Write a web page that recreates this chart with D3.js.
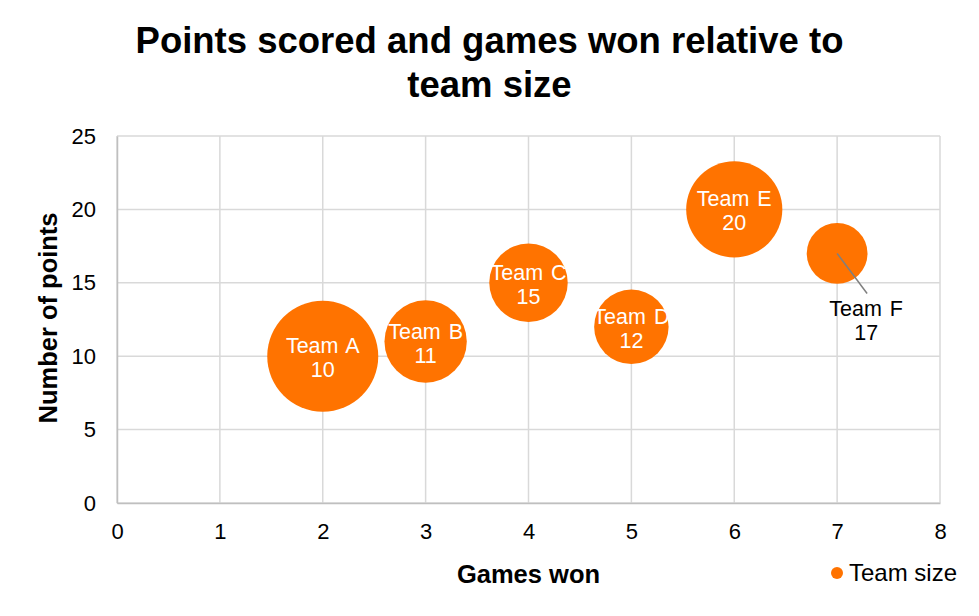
<!DOCTYPE html>
<html>
<head>
<meta charset="utf-8">
<script src="https://cdn.jsdelivr.net/npm/d3@7"></script>
<style>
  body { margin: 0; background: #fff; }
  svg { display: block; font-family: "Liberation Sans", Arial, sans-serif; }
</style>
</head>
<body>
<svg id="chart" width="979" height="616"></svg>
<script>
// chart data
const teams = ['Team A', 'Team B', 'Team C', 'Team D', 'Team E', 'Team F'];
const gamesWon = [2, 3, 4, 5, 6, 7];
const points = [10, 11, 15, 12, 20, 17];
const teamSize = [20, 11, 10, 9, 15, 6];
const xTicks = [0, 1, 2, 3, 4, 5, 6, 7, 8];
const yTicks = [0, 5, 10, 15, 20, 25];

const svg = d3.select('#chart');
const width = 979;
const height = 616;
const margin = { top: 136, right: 39, bottom: 113, left: 117 };
const orange = '#ff7300';

const data = teams.map((t, i) => ({
  team: t, x: gamesWon[i], y: points[i], size: teamSize[i]
}));

const xScale = d3.scaleLinear()
  .domain([0, 8])
  .range([margin.left, width - margin.right]);

const yScale = d3.scaleLinear()
  .domain([0, 25])
  .range([height - margin.bottom, margin.top]);

const rScale = d3.scaleSqrt()
  .domain([0, d3.max(teamSize)])
  .range([0, 55.5]);

// title
svg.append('text')
  .attr('x', 489.5)
  .attr('y', 53)
  .attr('text-anchor', 'middle')
  .attr('font-size', '36.5px')
  .attr('font-weight', 'bold')
  .attr('fill', '#000')
  .selectAll('tspan')
  .data(['Points scored and games won relative to', 'team size'])
  .enter()
  .append('tspan')
  .attr('x', 489.5)
  .attr('dy', (d, i) => i === 0 ? 0 : 44)
  .text(d => d);

// gridlines
const grid = svg.append('g').attr('class', 'grid');
grid.selectAll('line.v')
  .data(xTicks)
  .enter()
  .append('line')
  .attr('class', 'v')
  .attr('x1', d => xScale(d))
  .attr('x2', d => xScale(d))
  .attr('y1', yScale(25))
  .attr('y2', yScale(0))
  .attr('stroke', '#d9d9d9')
  .attr('stroke-width', 1.5);

grid.selectAll('line.h')
  .data(yTicks)
  .enter()
  .append('line')
  .attr('class', 'h')
  .attr('x1', xScale(0))
  .attr('x2', xScale(8))
  .attr('y1', d => yScale(d))
  .attr('y2', d => yScale(d))
  .attr('stroke', '#d9d9d9')
  .attr('stroke-width', 1.5);

// axes
const xAxis = d3.axisBottom(xScale).tickValues(xTicks).tickSize(0).tickPadding(20);
const yAxis = d3.axisLeft(yScale).tickValues(yTicks).tickSize(0).tickPadding(21);

const gx = svg.append('g')
  .attr('class', 'x-axis')
  .attr('transform', `translate(0,${yScale(0)})`)
  .call(xAxis);

const gy = svg.append('g')
  .attr('class', 'y-axis')
  .attr('transform', `translate(${xScale(0)},0)`)
  .call(yAxis);

[gx, gy].forEach(g => {
  g.select('.domain').attr('stroke', '#bfbfbf').attr('stroke-width', 1.5);
  g.selectAll('text')
    .attr('font-size', '22px')
    .attr('fill', '#000')
    .attr('font-family', '"Liberation Sans", Arial, sans-serif');
});

// axis titles
svg.append('text')
  .attr('x', (xScale(0) + xScale(8)) / 2)
  .attr('y', 583)
  .attr('text-anchor', 'middle')
  .attr('font-size', '25.5px')
  .attr('font-weight', 'bold')
  .attr('fill', '#000')
  .text('Games won');

svg.append('text')
  .attr('transform', 'translate(57,318) rotate(-90)')
  .attr('text-anchor', 'middle')
  .attr('font-size', '25.5px')
  .attr('font-weight', 'bold')
  .attr('fill', '#000')
  .text('Number of points');

// bubbles, largest first
const sorted = data.slice().sort((a, b) => b.size - a.size);
svg.append('g')
  .selectAll('circle')
  .data(sorted)
  .enter()
  .append('circle')
  .attr('cx', d => xScale(d.x))
  .attr('cy', d => yScale(d.y))
  .attr('r', d => rScale(d.size))
  .attr('fill', orange);

// leader line for the small bubble label
const outside = data.filter(d => d.team === 'Team F');
svg.append('g')
  .selectAll('line')
  .data(outside)
  .enter()
  .append('line')
  .attr('x1', d => xScale(d.x))
  .attr('y1', d => yScale(d.y))
  .attr('x2', d => xScale(d.x) + 30)
  .attr('y2', d => yScale(d.y) + 40)
  .attr('stroke', '#7f7f7f')
  .attr('stroke-width', 1.5);

// labels
const labels = svg.append('g')
  .selectAll('text')
  .data(data)
  .enter()
  .append('text')
  .attr('text-anchor', 'middle')
  .attr('font-size', '21.5px')
  .attr('word-spacing', '2px')
  .attr('fill', d => d.team === 'Team F' ? '#000' : '#fff')
  .attr('transform', d => d.team === 'Team F'
    ? `translate(${xScale(d.x) + 29},${yScale(d.y) + 63})`
    : `translate(${xScale(d.x)},${yScale(d.y) - 3})`);

labels.append('tspan')
  .attr('x', 0)
  .attr('y', 0)
  .text(d => d.team);

labels.append('tspan')
  .attr('x', 0)
  .attr('y', 24)
  .text(d => d.y);

// legend
const legend = svg.append('g')
  .attr('class', 'legend')
  .attr('transform', 'translate(837,573)');

legend.append('circle')
  .attr('cx', 0)
  .attr('cy', 0)
  .attr('r', 6)
  .attr('fill', orange);

legend.append('text')
  .attr('x', 12)
  .attr('y', 8)
  .attr('font-size', '24px')
  .attr('fill', '#000')
  .text('Team size');
</script>
</body>
</html>
